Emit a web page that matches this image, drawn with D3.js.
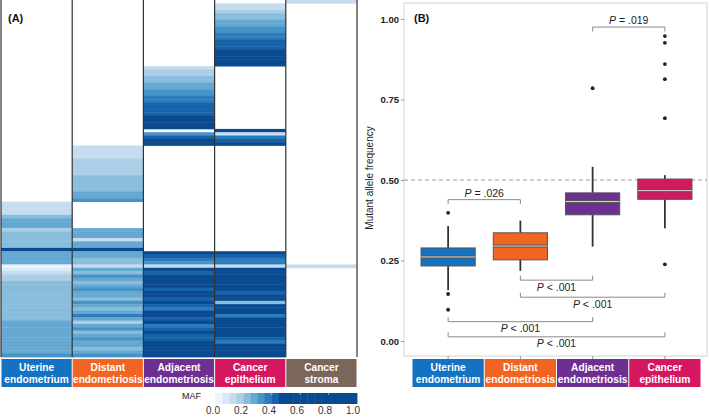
<!DOCTYPE html>
<html><head><meta charset="utf-8">
<script src="https://cdn.jsdelivr.net/npm/d3@7"></script>
<style>
html,body{margin:0;padding:0;background:#fff;}
svg{display:block;font-family:Arial,"Liberation Sans",sans-serif;}
</style></head>
<body>
<svg id="c" width="709" height="417"></svg>
<script>
// ---------- DATA ----------
const heatCategories = ["Uterine endometrium","Distant endometriosis","Adjacent endometriosis","Cancer epithelium","Cancer stroma"];
const categoryColors = ["#1571c1","#f26422","#6d2f91","#d5175f","#7b665a"];
const gap = n => Array(n).fill(null);

// MAF per mutation (row), per sample type (column); null = not detected
const uterineMAF = [].concat(gap(61),
  [0.12,0.13,0.13,0.14,0.24,0.27,0.28,0.29],
  [0.16,0.21,0.22,0.22,0.23,0.24,0.55],
  [0.30,0.29,0.28,0.29],
  [0.02],
  [0.08,0.13,0.17,0.19,0.20,0.21,0.21,0.22,0.22,0.22,0.23,0.23,0.23,0.24,0.24,0.24,0.25,0.25,0.25,0.26,0.26,0.26,0.27,0.27,0.28,0.29,0.31]);
const distantMAF = [].concat(gap(44),
  [0.12,0.13,0.14,0.15,0.16,0.17,0.18,0.19,0.19,0.20,0.21,0.21,0.22,0.23,0.25,0.28,0.31],
  gap(8),
  [0.28,0.27,0.26,0.14,0.30,0.29,0.55],
  [0.30,0.25,0.23,0.22],
  [0.13],
  [0.30,0.23,0.32,0.26,0.21,0.30,0.34,0.25,0.30,0.23,0.33,0.28,0.21,0.30,0.36,0.26,0.19,0.30,0.32,0.23,0.28,0.34,0.25,0.30,0.23,0.30,0.33]);
const adjacentMAF = [].concat(gap(20),
  [0.14,0.16,0.18,0.21,0.24,0.27,0.30,0.32,0.34,0.36,0.38,0.40,0.41,0.42,0.44,0.47,0.50,0.55,0.65],
  gap(1),
  [0.32,0.40,0.45,0.50],
  gap(32),
  [0.55,0.40,0.36,0.34],
  [0.14],
  [0.48,0.42,0.55,0.45,0.60,0.50,0.42,0.55,0.46,0.40,0.50,0.44,0.38,0.52,0.45,0.40,0.48,0.36,0.44,0.50,0.42,0.40,0.47,0.55,0.45,0.50,0.60]);
const cancerEpiMAF = [].concat(gap(1),
  [0.12,0.14,0.17,0.20,0.22,0.26,0.30,0.32,0.34,0.37,0.39,0.40,0.42,0.44,0.48,0.55,0.60,0.70,0.80],
  gap(19),
  [0.55],
  [0.15,0.38,0.42,0.45],
  gap(32),
  [0.55,0.42,0.38,0.36],
  [0.13],
  [0.50,0.48,0.55,0.45,0.52,0.47,0.50,0.44,0.55,0.48,0.20,0.50,0.46,0.52,0.38,0.45,0.55,0.50,0.46,0.48,0.52,0.44,0.36,0.50,0.55,0.48,0.60]);
const cancerStromaMAF = [].concat([0.14], gap(79), [0.12], gap(27));
const heatColumns = [uterineMAF, distantMAF, adjacentMAF, cancerEpiMAF, cancerStromaMAF];
const mafTicks = [0.0,0.2,0.4,0.6,0.8,1.0];

// Boxplot summary
const boxCategories = ["Uterine endometrium","Distant endometriosis","Adjacent endometriosis","Cancer epithelium"];
const whiskerLow  = [0.158,0.218,0.293,0.350];
const q1          = [0.233,0.252,0.392,0.440];
const medians     = [0.261,0.295,0.433,0.467];
const q3          = [0.289,0.336,0.460,0.503];
const whiskerHigh = [0.357,0.374,0.541,0.515];
const outliers    = [[0.398,0.146,0.097],[],[0.785],[0.947,0.926,0.860,0.813,0.692,0.238]];
const yTicks = [0,0.25,0.5,0.75,1.0];
const yTickLabels = ["0.00","0.25","0.50","0.75","1.00"];
// comparisons
const compFrom  = [0,2,1,1,0,0];
const compTo    = [1,3,2,3,2,3];
const compLevel = [0.439,0.975,0.189,0.136,0.060,0.013];
const compDir   = [1,1,-1,-1,-1,-1];
const compText  = ["= .026","= .019","< .001","< .001","< .001","< .001"];

// ---------- DRAW ----------
const svg = d3.select("#c");

function mafColor(v){
  const k = Math.min(Math.floor(v/0.05), 9);
  return d3.interpolateBlues(0.05 + 0.85*k/9);
}

// Panel A heatmap
const nRows = uterineMAF.length;
const hx = d3.scaleBand().domain(heatCategories).range([1,357]);
const hy = d3.scaleBand().domain(d3.range(nRows)).range([0,357]);
const gA = svg.append("g");
heatColumns.forEach((col,ci)=>{
  gA.append("g").selectAll("rect").data(col.map((v,i)=>({v,i})).filter(d=>d.v!==null))
    .join("rect")
    .attr("x", hx(heatCategories[ci]))
    .attr("width", hx.bandwidth())
    .attr("y", d=>hy(d.i))
    .attr("height", hy.bandwidth()+0.4)
    .attr("fill", d=>mafColor(d.v));
});
hx.domain().forEach((c,i)=>{
  gA.append("line").attr("x1",hx(c)).attr("x2",hx(c)).attr("y1",0).attr("y2",357)
    .attr("stroke","#333").attr("stroke-width",1.2);
});
gA.append("line").attr("x1",357).attr("x2",357).attr("y1",0).attr("y2",357)
  .attr("stroke","#333").attr("stroke-width",1.2);
gA.append("text").attr("x",8).attr("y",22).attr("font-size",11).attr("font-weight","bold").attr("fill","#111").text("(A)");

function labelBoxes(g, scale, cats, colors, y0, h){
  cats.forEach((c,i)=>{
    const x = scale(c), w = scale.bandwidth();
    g.append("rect").attr("x",x+0.5).attr("y",y0).attr("width",w-1).attr("height",h).attr("fill",colors[i]);
    const parts = c.split(" ");
    const t = g.append("text").attr("text-anchor","middle").attr("fill","#fff")
      .attr("font-size",10.2).attr("font-weight","bold");
    t.append("tspan").attr("x",x+w/2).attr("y",y0+12).text(parts[0]);
    t.append("tspan").attr("x",x+w/2).attr("y",y0+24).text(parts[1]);
  });
}
labelBoxes(gA, hx, heatCategories, categoryColors, 359, 28);

// MAF legend
const lx = d3.scaleLinear().domain([0,1]).range([215,357]);
const lt = d3.scaleLinear().domain([0,1]).range([213,353]);
const bins = d3.range(0,1,0.05);
gA.append("g").selectAll("rect").data(bins).join("rect")
  .attr("x",d=>lx(d)).attr("width",lx(0.05)-lx(0)+0.4).attr("y",393).attr("height",11)
  .attr("fill",d=>mafColor(d+0.001));
gA.append("text").attr("x",201).attr("y",399).attr("text-anchor","end").attr("font-size",9).attr("fill","#222").text("MAF");
gA.append("g").selectAll("text").data(mafTicks).join("text")
  .attr("x",d=>lt(d)).attr("y",414).attr("text-anchor","middle").attr("font-size",10).attr("fill","#333")
  .text(d=>d.toFixed(1));
gA.append("g").selectAll("line").data(mafTicks.slice(1,5)).join("line")
  .attr("x1",d=>lx(d)).attr("x2",d=>lx(d)).attr("y1",393).attr("y2",395).attr("stroke","#ffffff").attr("stroke-opacity",0.5);

// Panel B boxplot
const bx = d3.scaleBand().domain(boxCategories).range([412,701]);
const by = d3.scaleLinear().domain([0,1]).range([341,19]);
const gB = svg.append("g");
gB.append("rect").attr("x",404).attr("y",3).attr("width",303).attr("height",353)
  .attr("fill","#fff").attr("stroke","#d4d4d4").attr("stroke-width",1);
gB.append("line").attr("x1",404).attr("x2",707).attr("y1",by(0.5)).attr("y2",by(0.5))
  .attr("stroke","#9a9a9a").attr("stroke-dasharray","4,3").attr("stroke-width",1);

const yAxis = d3.axisLeft(by).tickValues(yTicks).tickFormat((d,i)=>yTickLabels[i]).tickSize(3).tickPadding(2);
const ga = gB.append("g").attr("transform","translate(404,0)").call(yAxis);
ga.select(".domain").remove();
ga.selectAll("line").attr("stroke","#999");
ga.selectAll("text").attr("font-size",9.5).attr("font-weight","bold").attr("fill","#222").attr("font-family",'Arial,"Liberation Sans",sans-serif');
gB.append("g").selectAll("line").data(boxCategories).join("line")
  .attr("x1",d=>bx(d)+bx.bandwidth()/2).attr("x2",d=>bx(d)+bx.bandwidth()/2)
  .attr("y1",356).attr("y2",359).attr("stroke","#999");
gB.append("text").attr("transform","translate(373,"+178+") rotate(-90)").attr("text-anchor","middle")
  .attr("font-size",10).attr("fill","#222").text("Mutant allele frequency");
gB.append("text").attr("x",414).attr("y",22).attr("font-size",11).attr("font-weight","bold").attr("fill","#111").text("(B)");

const bw = bx.bandwidth()*0.75;
boxCategories.forEach((c,i)=>{
  const cx = bx(c)+bx.bandwidth()/2;
  const g = gB.append("g");
  g.append("line").attr("x1",cx).attr("x2",cx).attr("y1",by(whiskerLow[i])).attr("y2",by(q1[i]))
    .attr("stroke","#333").attr("stroke-width",1.8);
  g.append("line").attr("x1",cx).attr("x2",cx).attr("y1",by(q3[i])).attr("y2",by(whiskerHigh[i]))
    .attr("stroke","#333").attr("stroke-width",1.8);
  g.append("rect").attr("x",cx-bw/2).attr("width",bw).attr("y",by(q3[i])).attr("height",by(q1[i])-by(q3[i]))
    .attr("fill",categoryColors[i]).attr("stroke","#555").attr("stroke-width",1);
  g.append("line").attr("x1",cx-bw/2).attr("x2",cx+bw/2).attr("y1",by(medians[i])).attr("y2",by(medians[i]))
    .attr("stroke","#555").attr("stroke-width",3);
  g.append("line").attr("x1",cx-bw/2).attr("x2",cx+bw/2).attr("y1",by(medians[i])).attr("y2",by(medians[i]))
    .attr("stroke","#d8d8d8").attr("stroke-width",1);
  g.selectAll("circle").data(outliers[i]).join("circle")
    .attr("cx",cx).attr("cy",d=>by(d)).attr("r",1.9).attr("fill","#222");
});

compFrom.forEach((f,k)=>{
  const x1 = bx(boxCategories[f])+bx.bandwidth()/2;
  const x2 = bx(boxCategories[compTo[k]])+bx.bandwidth()/2;
  const yl = by(compLevel[k]);
  const tick = 4.5*compDir[k];
  gB.append("path").attr("d",`M${x1},${yl+tick}V${yl}H${x2}V${yl+tick}`)
    .attr("fill","none").attr("stroke","#8a8a8a").attr("stroke-width",1);
  const ty = compDir[k]>0 ? yl-3 : yl+10.5;
  const t = gB.append("text").attr("x",(x1+x2)/2).attr("y",ty).attr("text-anchor","middle")
    .attr("font-size",10.5).attr("fill","#222");
  t.append("tspan").attr("font-style","italic").text("P");
  t.append("tspan").text(" "+compText[k]);
});

labelBoxes(gB, bx, boxCategories, categoryColors, 359, 28);
</script>
</body></html>
